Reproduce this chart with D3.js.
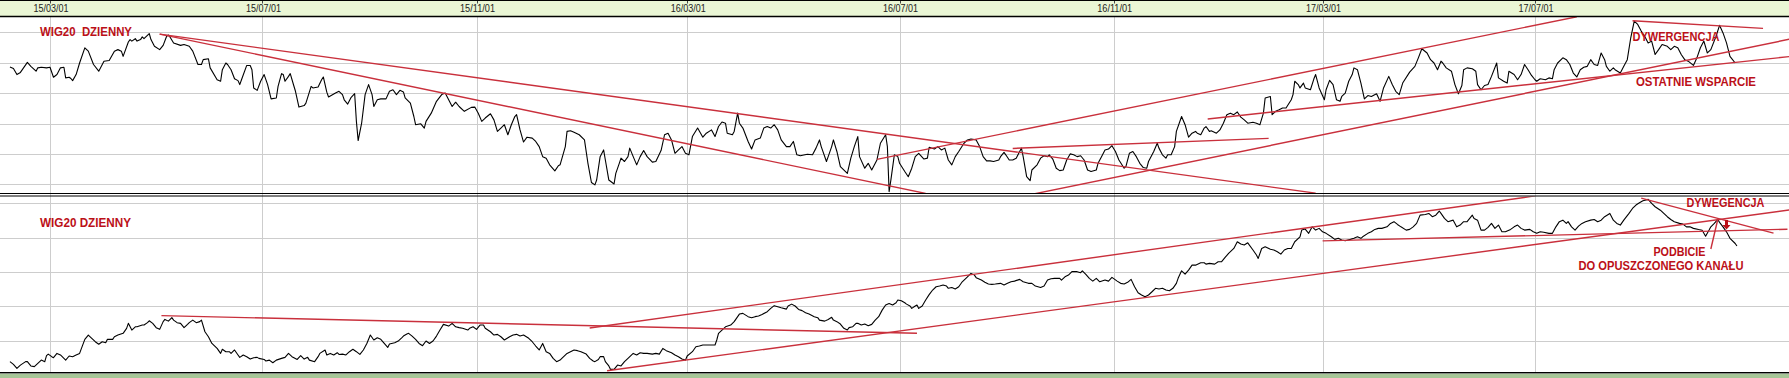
<!DOCTYPE html>
<html>
<head>
<meta charset="utf-8">
<script src="https://cdn.jsdelivr.net/npm/d3@7"></script>
<style>
  body { margin: 0; background: #fff; }
  svg { display: block; font-family: "Liberation Sans", Arial, sans-serif; }
</style>
</head>
<body>
<div id="chart"></div>
<script>
const WIDTH = 1789, HEIGHT = 378;

// day numbers count from 2015-01-01
const tickDates = ["2015-03-01", "2015-07-01", "2015-11-01", "2016-03-01",
                   "2016-07-01", "2016-11-01", "2017-03-01", "2017-07-01"];
const topGrid = [2000, 2100, 2200, 2300, 2400, 2500];
const bottomGrid = [1800, 2000, 2200, 2400, 2600];
const titles = ["WIG20  DZIENNY", "WIG20 DZIENNY"];

const topSeries = [
[36,2386],[38,2381],[40,2361],[42,2368],[46,2401],[48,2388],[51,2372],[52,2383],[54,2385],[57,2383],[59,2385],[61,2352],[63,2361],[65,2383],[67,2385],[68,2350],[70,2352],[71,2348],[72,2341],[74,2361],[76,2399],[79,2449],[81,2438],[84,2394],[87,2372],[90,2405],[93,2407],[96,2438],[98,2443],[100,2438],[101,2421],[104,2468],[105,2476],[106,2471],[108,2479],[109,2471],[111,2476],[112,2485],[113,2479],[116,2496],[117,2476],[119,2454],[122,2443],[124,2457],[126,2487],[127,2491],[128,2484],[130,2465],[134,2457],[136,2460],[139,2454],[141,2438],[144,2394],[146,2394],[147,2410],[150,2413],[151,2383],[155,2344],[157,2339],[158,2377],[160,2399],[161,2394],[163,2377],[165,2347],[167,2341],[168,2328],[169,2344],[172,2391],[174,2391],[175,2377],[176,2317],[178,2309],[180,2339],[182,2361],[184,2328],[186,2281],[189,2284],[190,2322],[192,2364],[193,2361],[194,2339],[196,2355],[197,2364],[199,2325],[200,2306],[202,2254],[205,2259],[206,2267],[209,2322],[210,2317],[213,2320],[215,2344],[216,2353],[218,2303],[219,2287],[223,2300],[225,2306],[227,2295],[228,2278],[230,2264],[232,2286],[234,2298],[235,2207],[236,2144],[238,2201],[240,2295],[242,2328],[244,2295],[245,2256],[247,2278],[249,2281],[252,2281],[254,2306],[256,2311],[258,2295],[260,2309],[262,2304],[263,2284],[266,2267],[268,2223],[269,2196],[272,2199],[274,2185],[275,2207],[278,2234],[281,2273],[284,2295],[286,2300],[290,2256],[292,2270],[294,2256],[297,2240],[301,2253],[303,2254],[305,2234],[307,2207],[309,2218],[312,2232],[314,2212],[316,2174],[318,2185],[320,2196],[322,2163],[324,2196],[326,2223],[327,2229],[329,2179],[331,2139],[333,2155],[336,2152],[338,2141],[340,2124],[342,2091],[344,2086],[346,2064],[349,2044],[351,2061],[352,2064],[355,2124],[356,2174],[358,2176],[360,2171],[363,2163],[366,2146],[368,2069],[370,2006],[372,1998],[373,2014],[375,2091],
[377,2113],[378,2080],[380,2014],[383,2001],[384,2036],[386,2069],[387,2086],[389,2075],[391,2091],[392,2119],[394,2091],[396,2064],[398,2091],[400,2111],[402,2091],[405,2073],[407,2075],[410,2111],[412,2163],[414,2168],[416,2146],[418,2102],[420,2113],[422,2124],[424,2102],[426,2097],[428,2157],[431,2185],[434,2155],[436,2168],[439,2179],[441,2157],[443,2190],[445,2205],[447,2201],[448,2168],[451,2163],[452,2174],[454,2234],[455,2201],[457,2185],[460,2141],[462,2116],[464,2146],[467,2152],[469,2185],[471,2190],[473,2185],[475,2196],[477,2179],[479,2146],[482,2124],[484,2124],[486,2141],[488,2097],[490,2094],[494,2099],[497,2097],[499,2119],[501,2146],[502,2124],[505,2075],[506,2091],[508,2124],[509,2146],[511,2108],[513,2058],[517,2036],[519,2086],[521,2124],[523,2157],[524,2091],[527,2053],[529,2069],[531,2047],[534,2080],[536,2135],[539,2163],[540,2124],[541,1976],[542,2014],[544,2097],[546,2091],[547,2069],[550,2042],[552,2025],[554,2053],[556,2091],[558,2102],[561,2083],[563,2086],[564,2122],[567,2116],[569,2124],[571,2113],[573,2119],[575,2080],[577,2064],[579,2091],[581,2108],[584,2135],[586,2146],[588,2149],[591,2146],[593,2124],[595,2091],[597,2077],[599,2077],[601,2075],[604,2080],[605,2091],[607,2105],[608,2097],[610,2080],[612,2080],[614,2086],[616,2108],[617,2119],[618,2091],[620,2025],[622,2012],[623,2047],[626,2064],[628,2086],[630,2094],[632,2091],[633,2097],[635,2083],[637,2053],[639,2045],[641,2047],[643,2080],[645,2100],[647,2097],[649,2091],[651,2094],[653,2080],[655,2047],[657,2042],[660,2047],[661,2069],[663,2091],[665,2113],[667,2116],[669,2127],[671,2108],[673,2080],[676,2053],[677,2058],[679,2102],[681,2108],[683,2091],[685,2069],[687,2055],[689,2053],[690,2075],[693,2108],[695,2135],[696,2119],[698,2097],[700,2086],[701,2097],[703,2097],[705,2124],[706,2174],[709,2223],[711,2196],[713,2155],[715,2168],[717,2174],[718,2168],[720,2163],
[722,2185],[723,2190],[725,2174],[726,2176],[729,2168],[731,2179],[733,2201],[735,2229],[737,2234],[739,2229],[741,2238],[743,2221],[745,2212],[747,2201],[750,2204],[752,2201],[754,2196],[756,2234],[757,2284],[760,2289],[761,2229],[763,2240],[765,2245],[767,2251],[769,2251],[772,2278],[773,2295],[774,2339],[776,2328],[777,2317],[779,2333],[780,2317],[783,2311],[785,2347],[786,2361],[788,2317],[791,2278],[792,2311],[794,2342],[796,2328],[798,2278],[800,2273],[801,2289],[803,2300],[805,2339],[807,2361],[808,2383],[810,2377],[812,2333],[814,2281],[816,2292],[818,2289],[821,2298],[823,2273],[825,2317],[828,2355],[830,2328],[832,2306],[834,2295],[836,2333],[840,2369],[843,2388],[845,2416],[847,2446],[850,2432],[852,2410],[854,2399],[856,2377],[858,2405],[859,2399],[861,2383],[864,2372],[866,2328],[868,2298],[870,2325],[871,2377],[873,2383],[876,2380],[878,2372],[879,2328],[881,2311],[883,2325],[885,2328],[887,2355],[890,2399],[891,2350],[894,2339],[896,2333],[897,2372],[900,2361],[902,2344],[904,2361],[906,2394],[908,2377],[910,2358],[912,2344],[913,2339],[915,2347],[918,2344],[920,2350],[922,2347],[923,2377],[925,2399],[928,2416],[930,2410],[932,2394],[934,2366],[936,2353],[938,2377],[940,2385],[942,2388],[944,2410],[946,2394],[948,2391],[950,2432],[952,2410],[953,2388],[955,2372],[957,2383],[958,2377],[961,2366],[963,2388],[965,2410],[967,2482],[969,2537],[971,2526],[973,2504],[975,2487],[977,2465],[979,2471],[981,2427],[983,2443],[985,2460],[988,2454],[990,2443],[992,2454],[994,2449],[996,2427],[998,2410],[1000,2405],[1003,2391],[1005,2416],[1007,2449],[1009,2471],[1011,2432],[1013,2443],[1016,2487],[1018,2523],[1020,2498],[1022,2465],[1024,2421],[1027,2399]
];

const bottomSeries = [
[36,1678],[38,1662],[40,1639],[42,1658],[45,1678],[46,1678],[48,1653],[50,1649],[52,1668],[54,1687],[56,1678],[57,1713],[58,1722],[60,1707],[61,1701],[63,1726],[65,1717],[68,1687],[70,1711],[72,1707],[74,1717],[76,1726],[79,1808],[81,1833],[83,1814],[85,1794],[87,1779],[89,1794],[91,1788],[92,1808],[95,1808],[96,1823],[98,1833],[101,1843],[103,1872],[104,1901],[106,1862],[108,1881],[109,1881],[112,1891],[113,1891],[115,1905],[116,1916],[118,1901],[120,1876],[122,1866],[124,1911],[125,1924],[127,1914],[129,1934],[130,1920],[132,1905],[134,1901],[136,1876],[138,1895],[139,1905],[141,1920],[143,1905],[145,1911],[146,1920],[148,1852],[150,1823],[152,1784],[155,1755],[157,1726],[158,1750],[160,1736],[162,1736],[163,1726],[165,1746],[167,1717],[168,1703],[170,1717],[172,1707],[174,1693],[176,1701],[178,1703],[179,1697],[182,1691],[183,1682],[185,1687],[187,1672],[189,1687],[192,1697],[194,1703],[196,1726],[198,1707],[201,1691],[203,1713],[205,1693],[207,1703],[208,1687],[211,1678],[213,1707],[214,1726],[217,1746],[218,1717],[220,1726],[222,1717],[224,1730],[225,1720],[227,1722],[229,1717],[231,1736],[233,1750],[235,1736],[237,1720],[239,1746],[241,1784],[243,1833],[245,1804],[247,1817],[249,1808],[251,1784],[253,1761],[254,1781],[257,1788],[259,1798],[261,1817],[262,1827],[264,1839],[265,1843],[267,1827],[269,1808],[271,1784],[273,1771],[275,1798],[277,1784],[279,1798],[281,1827],[283,1862],[285,1895],[288,1885],[290,1901],[292,1881],[294,1876],[296,1872],[299,1862],[300,1872],[302,1881],[304,1866],[306,1891],[308,1891],[309,1872],[312,1852],[314,1833],[316,1837],[318,1823],[320,1804],[323,1823],[325,1833],[327,1837],[329,1827],[331,1833],[334,1814],[336,1794],[338,1769],[340,1746],[342,1784],[344,1736],[346,1726],[348,1697],[350,1678],[352,1687],[353,1697],[356,1726],[358,1736],[360,1746],[362,1742],[364,1736],[367,1722],[369,1697],[371,1682],[372,1678],[374,1691],[375,1707],
[377,1707],[378,1678],[380,1653],[381,1633],[383,1633],[385,1658],[387,1653],[389,1678],[391,1697],[394,1726],[396,1717],[398,1730],[400,1726],[402,1726],[405,1722],[407,1726],[409,1722],[411,1755],[413,1742],[416,1730],[418,1717],[420,1707],[422,1693],[424,1687],[425,1711],[428,1736],[430,1765],[432,1769],[434,1775],[436,1775],[439,1775],[441,1775],[442,1804],[443,1843],[445,1862],[447,1881],[450,1891],[452,1911],[454,1940],[455,1955],[457,1959],[460,1940],[462,1934],[464,1940],[466,1944],[468,1953],[471,1969],[473,1988],[475,2004],[477,1998],[479,1992],[482,1984],[483,2002],[485,2013],[487,2002],[489,1982],[491,1975],[493,1963],[495,1955],[498,1940],[500,1934],[501,1920],[504,1914],[506,1924],[508,1936],[509,1920],[511,1911],[513,1897],[515,1872],[517,1862],[518,1876],[520,1881],[522,1901],[523,1901],[525,1891],[527,1897],[529,1887],[531,1895],[533,1920],[535,1940],[537,1978],[539,2008],[541,2017],[543,2008],[545,2021],[546,2037],[548,2033],[550,2021],[551,2013],[553,2002],[554,1988],[556,2002],[557,2008],[558,1988],[560,2002],[562,2037],[564,2068],[566,2095],[568,2114],[570,2118],[572,2124],[574,2118],[575,2105],[577,2110],[579,2101],[581,2114],[583,2143],[586,2172],[588,2192],[590,2182],[591,2167],[594,2153],[596,2140],[598,2130],[600,2128],[602,2130],[605,2134],[607,2124],[609,2134],[611,2143],[613,2147],[616,2157],[618,2143],[619,2140],[621,2134],[623,2134],[625,2118],[628,2110],[630,2118],[632,2153],[634,2161],[636,2163],[639,2163],[640,2153],[642,2172],[644,2182],[646,2202],[649,2202],[651,2196],[652,2207],[654,2186],[656,2163],[658,2147],[660,2163],[662,2143],[665,2153],[667,2147],[669,2169],[672,2147],[674,2134],[676,2130],[678,2140],[680,2157],[682,2114],[684,2079],[686,2066],[688,2056],[690,2066],[692,2085],[694,2105],[696,2101],[698,2105],[700,2095],[702,2091],[704,2105],[706,2134],[707,2163],[709,2207],[711,2188],[713,2211],[715,2240],[717,2240],[720,2254],
[722,2254],[723,2246],[725,2250],[728,2246],[730,2260],[732,2260],[734,2285],[736,2308],[739,2337],[741,2376],[743,2363],[745,2357],[747,2370],[750,2328],[752,2299],[753,2279],[755,2337],[757,2347],[760,2332],[762,2328],[764,2318],[766,2304],[768,2328],[770,2337],[772,2337],[774,2376],[777,2405],[778,2444],[780,2450],[782,2425],[784,2463],[786,2444],[788,2454],[790,2434],[792,2425],[795,2405],[797,2390],[799,2396],[801,2386],[803,2382],[806,2390],[808,2396],[810,2405],[812,2396],[813,2405],[816,2425],[818,2434],[820,2448],[822,2454],[824,2454],[827,2463],[829,2483],[831,2493],[833,2477],[835,2463],[838,2444],[840,2448],[842,2463],[844,2483],[846,2531],[849,2535],[851,2541],[853,2522],[855,2531],[857,2555],[858,2541],[860,2512],[862,2493],[865,2502],[867,2463],[869,2473],[871,2493],[873,2493],[876,2531],[877,2512],[879,2502],[881,2444],[883,2444],[885,2460],[887,2483],[889,2454],[891,2473],[893,2434],[895,2434],[898,2448],[900,2463],[902,2473],[904,2454],[906,2444],[909,2448],[911,2434],[913,2425],[915,2434],[917,2431],[920,2425],[922,2425],[924,2463],[926,2493],[928,2502],[930,2483],[931,2493],[933,2463],[935,2444],[937,2467],[939,2483],[941,2493],[944,2502],[946,2506],[948,2493],[950,2502],[952,2522],[955,2541],[957,2502],[959,2483],[961,2473],[963,2502],[966,2541],[968,2570],[970,2590],[972,2603],[974,2615],[977,2623],[979,2599],[981,2580],[984,2560],[986,2541],[988,2522],[990,2506],[992,2493],[995,2483],[997,2479],[999,2463],[1001,2463],[1003,2454],[1006,2447],[1008,2443],[1010,2408],[1012,2444],[1013,2463],[1015,2483],[1017,2506],[1018,2489],[1020,2463],[1022,2434],[1024,2396],[1027,2366],[1028,2351]
];

// trend lines: [[day, value], [day, value]]
const topTrends = [
  [[122, 2494], [786, 1971]],
  [[122, 2494], [562, 1970]],
  [[534, 2082], [936, 2551]],
  [[612, 2118], [759, 2151]],
  [[623, 1967], [1058, 2477]],
  [[724, 2215], [1058, 2420]],
  [[968, 2538], [1043, 2513]]
];
const bottomTrends = [
  [[123, 1946], [557, 1843]],
  [[369, 1874], [912, 2643]],
  [[379, 1625], [1058, 2561]],
  [[790, 2381], [1057, 2449]],
  [[973, 2630], [1049, 2426]],
  [[1013, 2334], [1017, 2507]]
];
const bottomArrow = { day: 1022, from: 2503, to: 2448 };

const topNotes = [
  { day: 968, value: 2470, text: "DYWERGENCJA" },
  { day: 970, value: 2323, text: "OSTATNIE WSPARCIE" }
];
const bottomNotes = [
  { day: 999, value: 2576, text: "DYWEGENCJA" },
  { day: 980, value: 2293, text: "PODBICIE" },
  { day: 937, value: 2209, text: "DO OPUSZCZONEGO KANAŁU" }
];
const labelWidths = {
  "WIG20  DZIENNY": 92, "WIG20 DZIENNY": 91, "DYWERGENCJA": 87, "OSTATNIE WSPARCIE": 120,
  "DYWEGENCJA": 78, "PODBICIE": 52, "DO OPUSZCZONEGO KANAŁU": 165
};

const RED_TEXT = "#bb1018", RED_LINE = "#c9303c";
const asDate = d => new Date(2015, 0, 1 + d);
const parse = d3.timeParse("%Y-%m-%d");
const fmt = d3.timeFormat("%y/%m/%d");

const x = d3.scaleTime()
  .domain([new Date(2015, 2, 1), new Date(2017, 6, 1)])
  .range([50, 1535]);

const svg = d3.select("#chart").append("svg")
  .attr("width", WIDTH).attr("height", HEIGHT);

svg.append("rect").attr("width", WIDTH).attr("height", HEIGHT).attr("fill", "#fff");

// header band
svg.append("rect").attr("x", 0).attr("y", 0).attr("width", WIDTH).attr("height", 16.5)
  .attr("fill", "#eaf6d5");

// vertical grid through both panels
svg.append("g").selectAll("line").data(tickDates).join("line")
  .attr("x1", d => Math.round(x(parse(d))) + 0.5).attr("x2", d => Math.round(x(parse(d))) + 0.5)
  .attr("y1", 17).attr("y2", 372)
  .attr("stroke", "#cdcdcd").attr("stroke-width", 1);

// header ticks and labels
const hdr = svg.append("g");
hdr.selectAll("line").data(tickDates).join("line")
  .attr("x1", d => Math.round(x(parse(d))) + 0.5).attr("x2", d => Math.round(x(parse(d))) + 0.5)
  .attr("y1", 1).attr("y2", 3.5).attr("stroke", "#444");
hdr.selectAll("text").data(tickDates).join("text")
  .attr("x", d => x(parse(d)) + 1).attr("y", 12.2)
  .attr("text-anchor", "middle")
  .attr("font-size", 10).attr("fill", "#222")
  .attr("textLength", 35).attr("lengthAdjust", "spacingAndGlyphs")
  .text(d => fmt(parse(d)));

const panels = [
  { id: "top", top: 17, bottom: 193, domain: [2000, 2500], range: [184.3, 32.3],
    grid: topGrid, series: topSeries, trends: topTrends, notes: topNotes,
    title: titles[0], titleY: 36.2 },
  { id: "bottom", top: 196.5, bottom: 372.5, domain: [1800, 2600], range: [340.7, 203.3],
    grid: bottomGrid, series: bottomSeries, trends: bottomTrends, notes: bottomNotes,
    title: titles[1], titleY: 227 }
];

panels.forEach(p => {
  const y = d3.scaleLinear().domain(p.domain).range(p.range);

  svg.append("clipPath").attr("id", "clip-" + p.id)
    .append("rect").attr("x", 0).attr("y", p.top)
    .attr("width", WIDTH).attr("height", p.bottom - p.top);

  const g = svg.append("g").attr("clip-path", `url(#clip-${p.id})`);

  g.append("g").selectAll("line").data(p.grid).join("line")
    .attr("x1", 0).attr("x2", WIDTH)
    .attr("y1", d => Math.round(y(d)) + 0.5).attr("y2", d => Math.round(y(d)) + 0.5)
    .attr("stroke", "#cdcdcd");

  const line = d3.line().x(d => x(asDate(d[0]))).y(d => y(d[1]));

  g.append("path").datum(p.series)
    .attr("d", line).attr("fill", "none")
    .attr("stroke", "#000").attr("stroke-width", 1.1)
    .attr("stroke-linejoin", "round");

  g.append("g").selectAll("path").data(p.trends).join("path")
    .attr("d", line).attr("fill", "none")
    .attr("stroke", RED_LINE).attr("stroke-width", 1.4);

  g.append("text").attr("x", 40).attr("y", p.titleY)
    .attr("font-size", 12.5).attr("font-weight", "bold").attr("fill", RED_TEXT)
    .attr("textLength", labelWidths[p.title]).attr("lengthAdjust", "spacingAndGlyphs")
    .attr("xml:space", "preserve").style("white-space", "pre")
    .text(p.title);

  g.append("g").selectAll("text").data(p.notes).join("text")
    .attr("x", d => x(asDate(d.day))).attr("y", d => y(d.value))
    .attr("font-size", 12.5).attr("font-weight", "bold").attr("fill", RED_TEXT)
    .attr("textLength", d => labelWidths[d.text]).attr("lengthAdjust", "spacingAndGlyphs")
    .text(d => d.text);

  if (p.id === "bottom") {
    const ax = x(asDate(bottomArrow.day)), y0 = y(bottomArrow.from), y1 = y(bottomArrow.to);
    g.append("line").attr("x1", ax).attr("x2", ax).attr("y1", y0).attr("y2", y1 - 4)
      .attr("stroke", RED_TEXT).attr("stroke-width", 3);
    g.append("path")
      .attr("d", `M${ax - 4},${y1 - 4.5}L${ax + 4},${y1 - 4.5}L${ax},${y1}Z`)
      .attr("fill", RED_TEXT);
  }
});

// frame lines
const frame = [
  { y: 0.5, w: 1 }, { y: 16.5, w: 1.5 },
  { y: 193.5, w: 1 }, { y: 196, w: 1 }, { y: 372.8, w: 1.5 }
];
svg.append("g").selectAll("line").data(frame).join("line")
  .attr("x1", 0).attr("x2", WIDTH).attr("y1", d => d.y).attr("y2", d => d.y)
  .attr("stroke", "#000").attr("stroke-width", d => d.w);

svg.append("rect").attr("x", 0).attr("y", 373.8).attr("width", WIDTH).attr("height", 4.2)
  .attr("fill", "#a6c697");
</script>
</body>
</html>
